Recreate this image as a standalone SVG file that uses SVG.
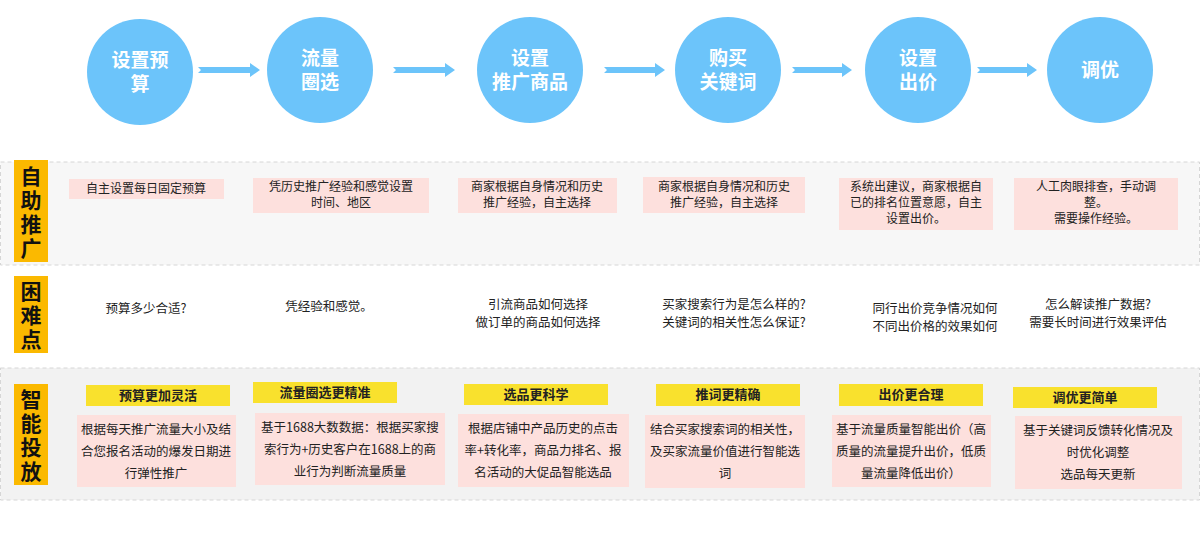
<svg xmlns="http://www.w3.org/2000/svg" width="1200" height="534" viewBox="0 0 1200 534">
<style>
text{font-family:"Noto Sans CJK SC","Liberation Sans",sans-serif;fill:#222;font-size:12.5px;text-anchor:middle}
.s{font-size:12px}
.c{fill:#6cc4fa}
.ct{fill:#fff;font-size:19px;font-weight:bold}
.lab{fill:#fbb900}
.lt{font-size:21px;font-weight:bold;fill:#111}
.pk{fill:#fde0dd}
.yl{fill:#f9e12d}
.ht{font-weight:bold;font-size:13px}
.ar{fill:#6cc4fa}
.band{stroke:#d6d6d6;stroke-dasharray:4 3;stroke-width:1}
</style>
<rect width="1200" height="534" fill="#fff"/>
<rect class="band" x="0.5" y="162" width="1199" height="103" fill="#f7f7f7"/>
<rect class="band" x="0.5" y="368" width="1199" height="132" fill="#f2f2f2"/>
<g id="connectors">
<path class="ar" d="M198,67 H250 V63 L260,70 L250,77 V73 H198 L201,70 Z"/>
<path class="ar" d="M393,67 H445 V63 L455,70 L445,77 V73 H393 L396,70 Z"/>
<path class="ar" d="M604,67 H655 V63 L665,70 L655,77 V73 H604 L607,70 Z"/>
<path class="ar" d="M792,67 H842 V63 L852,70 L842,77 V73 H792 L795,70 Z"/>
<path class="ar" d="M977,67 H1027 V63 L1037,70 L1027,77 V73 H977 L980,70 Z"/>
</g>
<g id="step1"><circle class="c" cx="140" cy="72" r="53"/><text class="ct" x="140" y="67">设置预</text><text class="ct" x="140" y="91">算</text></g>
<g id="step2"><circle class="c" cx="320" cy="70" r="53"/><text class="ct" x="320" y="65">流量</text><text class="ct" x="320" y="89">圈选</text></g>
<g id="step3"><circle class="c" cx="530" cy="70" r="53"/><text class="ct" x="530" y="65">设置</text><text class="ct" x="530" y="89">推广商品</text></g>
<g id="step4"><circle class="c" cx="728" cy="70" r="53"/><text class="ct" x="728" y="65">购买</text><text class="ct" x="728" y="89">关键词</text></g>
<g id="step5"><circle class="c" cx="918" cy="70" r="53"/><text class="ct" x="918" y="65">设置</text><text class="ct" x="918" y="89">出价</text></g>
<g id="step6"><circle class="c" cx="1100" cy="70" r="53"/><text class="ct" x="1100" y="77">调优</text></g>

<g id="label1"><rect class="lab" x="14" y="160" width="34" height="102"/><text class="lt" x="31" y="184">自</text><text class="lt" x="31" y="208">助</text><text class="lt" x="31" y="232">推</text><text class="lt" x="31" y="256">广</text></g>
<g id="label2"><rect class="lab" x="14" y="276" width="34" height="77"/><text class="lt" x="31" y="299">困</text><text class="lt" x="31" y="323">难</text><text class="lt" x="31" y="347">点</text></g>
<g id="label3"><rect class="lab" x="14" y="384" width="34" height="101"/><text class="lt" x="31" y="407">智</text><text class="lt" x="31" y="431">能</text><text class="lt" x="31" y="455">投</text><text class="lt" x="31" y="479">放</text></g>

<g id="self1"><rect class="pk" x="69" y="179" width="155" height="20"/><text class="s" x="146" y="193">自主设置每日固定预算</text></g>
<g id="self2"><rect class="pk" x="253" y="178" width="176" height="35"/><text class="s" x="341" y="191">凭历史推广经验和感觉设置</text><text class="s" x="341" y="207">时间、地区</text></g>
<g id="self3"><rect class="pk" x="458" y="178" width="159" height="35"/><text class="s" x="537" y="191">商家根据自身情况和历史</text><text class="s" x="537" y="207">推广经验，自主选择</text></g>
<g id="self4"><rect class="pk" x="643" y="177" width="162" height="36"/><text class="s" x="724" y="191">商家根据自身情况和历史</text><text class="s" x="724" y="207">推广经验，自主选择</text></g>
<g id="self5"><rect class="pk" x="839" y="178" width="154" height="52"/><text class="s" x="916" y="191">系统出建议，商家根据自</text><text class="s" x="916" y="207">已的排名位置意愿，自主</text><text class="s" x="916" y="223">设置出价。</text></g>
<g id="self6"><rect class="pk" x="1014" y="178" width="164" height="52"/><text class="s" x="1096" y="191">人工肉眼排查，手动调</text><text class="s" x="1096" y="207">整。</text><text class="s" x="1096" y="223">需要操作经验。</text></g>

<g id="diff1"><text x="146" y="313">预算多少合适?</text></g>
<g id="diff2"><text x="329" y="311">凭经验和感觉。</text></g>
<g id="diff3"><text x="538" y="309">引流商品如何选择</text><text x="538" y="327">做订单的商品如何选择</text></g>
<g id="diff4"><text x="734" y="309">买家搜索行为是怎么样的?</text><text x="734" y="327">关键词的相关性怎么保证?</text></g>
<g id="diff5"><text x="935" y="313">同行出价竞争情况如何</text><text x="935" y="331">不同出价格的效果如何</text></g>
<g id="diff6"><text x="1098" y="309">怎么解读推广数据?</text><text x="1098" y="327">需要长时间进行效果评估</text></g>

<g id="smart1"><rect class="yl" x="86" y="385" width="144" height="21"/><text class="ht" x="158" y="400">预算更加灵活</text>
<rect class="pk" x="77" y="415" width="159" height="72"/><text x="156" y="434">根据每天推广流量大小及结</text><text x="156" y="456">合您报名活动的爆发日期进</text><text x="156" y="478">行弹性推广</text></g>
<g id="smart2"><rect class="yl" x="253" y="382" width="144" height="21"/><text class="ht" x="325" y="397">流量圈选更精准</text>
<rect class="pk" x="255" y="413" width="190" height="72"/><text x="350" y="432">基于1688大数数据：根据买家搜</text><text x="350" y="454">索行为+历史客户在1688上的商</text><text x="350" y="476">业行为判断流量质量</text></g>
<g id="smart3"><rect class="yl" x="464" y="384" width="144" height="21"/><text class="ht" x="536" y="399">选品更科学</text>
<rect class="pk" x="458" y="414" width="171" height="73"/><text x="543" y="433">根据店铺中产品历史的点击</text><text x="543" y="455">率+转化率，商品力排名、报</text><text x="543" y="477">名活动的大促品智能选品</text></g>
<g id="smart4"><rect class="yl" x="656" y="384" width="144" height="22"/><text class="ht" x="728" y="399">推词更精确</text>
<rect class="pk" x="645" y="415" width="160" height="73"/><text x="725" y="434">结合买家搜索词的相关性，</text><text x="725" y="456">及买家流量价值进行智能选</text><text x="725" y="478">词</text></g>
<g id="smart5"><rect class="yl" x="839" y="384" width="144" height="22"/><text class="ht" x="911" y="399">出价更合理</text>
<rect class="pk" x="832" y="415" width="159" height="72"/><text x="911" y="434">基于流量质量智能出价（高</text><text x="911" y="456">质量的流量提升出价，低质</text><text x="911" y="478">量流量降低出价）</text></g>
<g id="smart6"><rect class="yl" x="1013" y="387" width="144" height="21"/><text class="ht" x="1085" y="402">调优更简单</text>
<rect class="pk" x="1015" y="416" width="167" height="73"/><text x="1098" y="435">基于关键词反馈转化情况及</text><text x="1098" y="457">时优化调整</text><text x="1098" y="479">选品每天更新</text></g>
</svg>
